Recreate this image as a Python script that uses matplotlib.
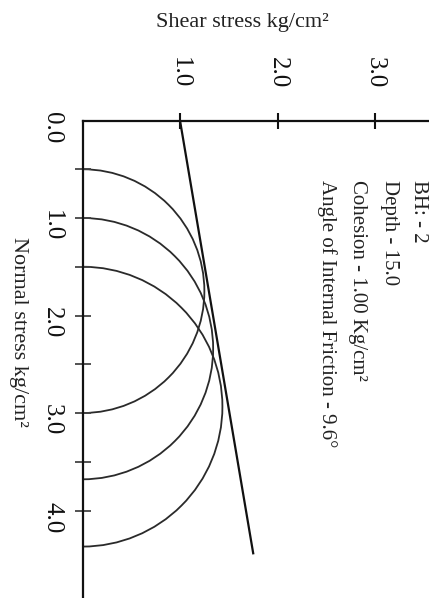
import numpy as np
import matplotlib
matplotlib.use("Agg")
import matplotlib.pyplot as plt
from matplotlib.patches import Arc
from matplotlib.ticker import FixedLocator

plt.rcParams['font.family'] = ['Liberation Serif', 'DejaVu Serif']

# ---- data (kg/cm^2) ----
sigma3 = [0.5, 1.0, 1.5]          # minor principal stresses
sigma1 = [3.0, 3.68, 4.37]        # major principal stresses
cohesion = 1.00
phi_deg = 9.6
line_sigma_end = 4.45
shear_ticks = [1.0, 2.0, 3.0]
shear_labels = ["1.0", "2.0", "3.0"]
normal_ticks = [0.0, 1.0, 2.0, 3.0, 4.0]
normal_labels = ["0.0", "1.0", "2.0", "3.0", "4.0"]
normal_minor = [0.5, 1.0, 1.5, 2.0, 2.5, 3.0, 3.5, 4.0]
info = ["BH: - 2", "Depth - 15.0", "Cohesion - 1.00 Kg/cm\u00b2",
        "Angle of Internal Friction - 9.6\u00b0"]

W, H = 429, 598
fig = plt.figure(figsize=(W / 100, H / 100), dpi=100)
x0, y0, scale = 82.5, 120.5, 97.5
ax = fig.add_axes([x0 / W, 0, 1 - x0 / W, (H - y0) / H])
ax.set_xlim(0, (W - x0) / scale)
ax.set_ylim((H - y0) / scale, 0)

for s in ['right', 'bottom']:
    ax.spines[s].set_visible(False)
for s in ['top', 'left']:
    ax.spines[s].set_linewidth(1.6)
    ax.spines[s].set_color('#111111')

# Mohr circles (shear horizontal, normal stress downward)
for s3, s1 in zip(sigma3, sigma1):
    c = (s1 + s3) / 2
    r = (s1 - s3) / 2
    ax.add_patch(Arc((0, c), 2 * r, 2 * r, theta1=-90, theta2=90,
                     color='#2a2a2a', lw=1.3))

# failure envelope
ls = np.array([0.0, line_sigma_end])
tau = cohesion + ls * np.tan(np.radians(phi_deg))
ax.plot(tau, ls, color='#111111', lw=1.6, solid_capstyle='butt')

# ticks
ax.xaxis.tick_top()
ax.set_xticks(shear_ticks)
ax.set_xticklabels(shear_labels)
ax.tick_params(axis='x', which='major', direction='inout', length=11, width=1.5,
               pad=18, labelsize=18, labelrotation=-90, colors='#111111')

ax.yaxis.remove_overlapping_locs = False
ax.set_yticks(normal_ticks)
ax.set_yticklabels(normal_labels)
ax.yaxis.set_minor_locator(FixedLocator(normal_minor))
ax.tick_params(axis='y', which='major', length=0, pad=14, labelsize=18,
               labelrotation=-90, colors='#111111')
ax.tick_params(axis='y', which='minor', direction='inout', length=11, width=1.3,
               color='#444444')

# axis titles
fig.text(242 / W, 1 - 23 / H, "Shear stress kg/cm\u00b2", ha='center', va='center',
         fontsize=16, color='#222222')
fig.text(18 / W, 1 - 332 / H, "Normal stress kg/cm\u00b2", ha='center', va='center',
         rotation=-90, fontsize=16, color='#222222')

# info block
col_px = [418, 389, 358, 327]
for txt, cx in zip(info, col_px):
    ax.text((cx - x0) / scale, (180 - y0) / scale, txt, rotation=-90,
            rotation_mode='anchor', ha='left', va='center', fontsize=15,
            color='#222222', clip_on=False)

fig.savefig("out.png", dpi=100, facecolor='white')
